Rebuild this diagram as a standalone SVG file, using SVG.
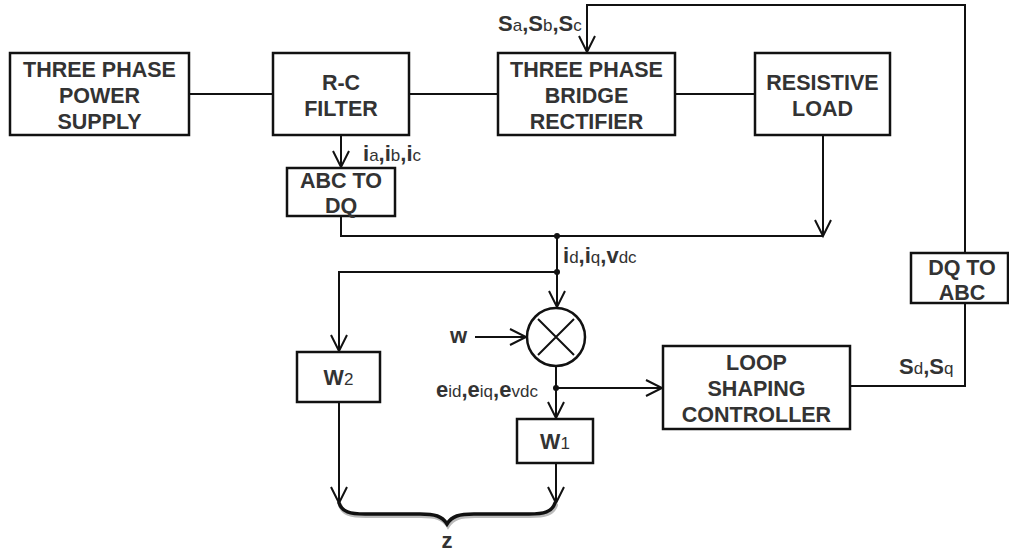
<svg xmlns="http://www.w3.org/2000/svg" width="1009" height="553" viewBox="0 0 1009 553">
<style>
.box{fill:#fff;stroke:#111;stroke-width:2.5}
.t{font-family:"Liberation Sans",Arial,sans-serif;font-weight:bold;font-size:21.5px;fill:#333;text-anchor:middle}
.l{font-family:"Liberation Sans",Arial,sans-serif;font-weight:bold;font-size:22px;fill:#333}
.s{font-weight:normal;font-size:17px}
.c{fill:none;stroke:#111;stroke-width:2}
.a{marker-end:url(#arr)}
</style>
<defs>
<marker id="arr" markerUnits="userSpaceOnUse" markerWidth="20" markerHeight="20" viewBox="-17 -10 20 20" refX="0" refY="0" orient="auto" overflow="visible">
<path d="M-16,-8 L0,0 L-16,8" fill="none" stroke="#111" stroke-width="2"/>
</marker>
</defs>
<g id="connectors">
<path class="c" d="M189,94 H273"/>
<path class="c" d="M409,94 H498"/>
<path class="c" d="M675,94 H755"/>
<path class="c a" d="M341,135 V167"/>
<path class="c" d="M341,216 V236 H823"/>
<path class="c a" d="M823,135 V236"/>
<path class="c" d="M557,236 V272"/>
<path class="c a" d="M557,272 V307"/>
<path class="c a" d="M557,272 H339 V351"/>
<path class="c a" d="M475,337 H526"/>
<path class="c a" d="M556,366 V418"/>
<path class="c a" d="M556,388 H662"/>
<path class="c a" d="M556,463 V503"/>
<path class="c a" d="M339,402 V503"/>
<path class="c" d="M850,386 H965 V303"/>
<path class="c a" d="M965,253 V5 H587 V52"/>
<circle cx="557" cy="236" r="3" fill="#111"/>
<circle cx="557" cy="272" r="3" fill="#111"/>
<circle cx="556" cy="388" r="3" fill="#111"/>
</g>
<g id="n-supply">
<rect class="box" x="10" y="53" width="179" height="82"/>
<text class="t" x="99.5" y="77">THREE PHASE</text>
<text class="t" x="99.5" y="103">POWER</text>
<text class="t" x="99.5" y="129">SUPPLY</text>
</g>
<g id="n-filter">
<rect class="box" x="273" y="53" width="136" height="82"/>
<text class="t" x="341" y="90">R-C</text>
<text class="t" x="341" y="116">FILTER</text>
</g>
<g id="n-bridge">
<rect class="box" x="498" y="53" width="177" height="82"/>
<text class="t" x="586.5" y="77">THREE PHASE</text>
<text class="t" x="586.5" y="103">BRIDGE</text>
<text class="t" x="586.5" y="129">RECTIFIER</text>
</g>
<g id="n-load">
<rect class="box" x="755" y="53" width="135" height="82"/>
<text class="t" x="822.5" y="90">RESISTIVE</text>
<text class="t" x="822.5" y="116">LOAD</text>
</g>
<g id="n-abc2dq">
<rect class="box" x="287" y="168" width="108" height="48"/>
<text class="t" x="341" y="188">ABC TO</text>
<text class="t" x="341" y="213">DQ</text>
</g>
<g id="n-dq2abc">
<rect class="box" x="911" y="253" width="97" height="50"/>
<text class="t" x="962" y="275">DQ TO</text>
<text class="t" x="962" y="300">ABC</text>
</g>
<g id="n-lsc">
<rect class="box" x="663" y="346" width="187" height="83"/>
<text class="t" x="756.5" y="370">LOOP</text>
<text class="t" x="756.5" y="396">SHAPING</text>
<text class="t" x="756.5" y="422">CONTROLLER</text>
</g>
<g id="n-w2">
<rect class="box" x="297" y="352" width="83" height="50"/>
<text class="t" x="338.5" y="385" font-size="23">W<tspan class="s" font-size="16">2</tspan></text>
</g>
<g id="n-w1">
<rect class="box" x="517" y="419" width="76" height="44"/>
<text class="t" x="555" y="449" font-size="23">W<tspan class="s" font-size="16">1</tspan></text>
</g>
<g id="n-mixer">
<circle cx="556" cy="337" r="29" fill="#fff" stroke="#111" stroke-width="2.5"/>
<path d="M538,319 L574,355 M574,319 L538,355" stroke="#111" stroke-width="2"/>
</g>
<g id="brace">
<path d="M340,505 C343,514 351,516 366,516 L421,516 C436,516 443,518 448,526 C453,518 460,516 475,516 L530,516 C545,516 553,514 556,505" fill="none" stroke="#bbb" stroke-width="4" stroke-linecap="round"/>
<path d="M339,503 C342,512 350,514 365,514 L420,514 C435,514 442,516 447,524 C452,516 459,514 474,514 L529,514 C544,514 552,512 555,503" fill="none" stroke="#111" stroke-width="3.5" stroke-linecap="round"/>
</g>
<g id="labels">
<text class="l" x="363" y="161">i<tspan class="s">a</tspan>,i<tspan class="s">b</tspan>,i<tspan class="s">c</tspan></text>
<text class="l" x="498" y="31">S<tspan class="s">a</tspan>,S<tspan class="s">b</tspan>,S<tspan class="s">c</tspan></text>
<text class="l" x="563" y="263">i<tspan class="s">d</tspan>,i<tspan class="s">q</tspan>,v<tspan class="s">dc</tspan></text>
<text class="l" x="436" y="397" font-size="25">e<tspan class="s">id</tspan>,e<tspan class="s">iq</tspan>,e<tspan class="s">vdc</tspan></text>
<text class="l" x="899" y="374">S<tspan class="s">d</tspan>,S<tspan class="s">q</tspan></text>
<text class="l" x="450" y="343" font-size="23">w</text>
<text class="l" x="447" y="548" font-size="23" text-anchor="middle">z</text>
</g>
</svg>
